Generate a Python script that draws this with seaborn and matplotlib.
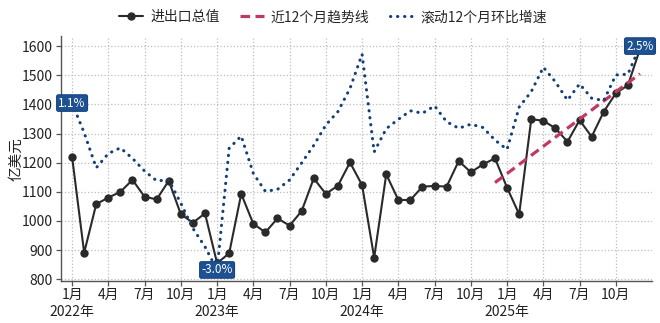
import numpy as np
import pandas as pd
import matplotlib
matplotlib.use("Agg")
import matplotlib.pyplot as plt
import seaborn as sns
from matplotlib.lines import Line2D

# Monthly periods, Jan 2022 – Dec 2025
periods = pd.period_range("2022-01", "2025-12", freq="M")

# Total import/export value, 100 million USD
total_trade = [
    1220, 891, 1058, 1080, 1100, 1141, 1083, 1074, 1138, 1023, 994, 1026,
    855, 889, 1093, 990, 961, 1009, 984, 1034, 1146, 1093, 1121, 1201,
    1123, 874, 1160, 1072, 1072, 1118, 1120, 1118, 1206, 1167, 1194, 1215,
    1114, 1023, 1349, 1344, 1318, 1272, 1346, 1289, 1375, 1438, 1466, 1590,
]

# Rolling 12-month month-on-month growth, %
rolling_growth = [
    1.10, 0.37, -0.49, -0.14, 0.00, -0.26, -0.57, -0.81, -0.79, -1.36, -1.98, -2.43,
    -3.00, -0.01, 0.29, -0.63, -1.07, -1.02, -0.79, -0.37, 0.06, 0.56, 0.89, 1.46,
    2.30, -0.10, 0.47, 0.70, 0.91, 0.85, 1.03, 0.64, 0.48, 0.58, 0.50, 0.19,
    -0.04, 1.00, 1.38, 1.98, 1.62, 1.17, 1.57, 1.22, 1.16, 1.79, 1.81, 2.50,
]

trend_window = 13  # points used for the recent trend fit

legend_labels = ["进出口总值", "近12个月趋势线", "滚动12个月环比增速"]
y_label = "亿美元"

df = pd.DataFrame({
    "idx": np.arange(len(periods)),
    "total": total_trade,
    "growth": rolling_growth,
})

sns.set_theme(style="ticks")
plt.rcParams["font.family"] = ["Noto Sans CJK SC", "DejaVu Sans"]
plt.rcParams["axes.unicode_minus"] = False

c_black = "#2a2a2a"
c_trend = "#bf3a60"
c_blue = "#133f78"

fig = plt.figure(figsize=(6.6, 3.23), dpi=100)
ax = fig.add_axes([0.092, 0.131, 0.896, 0.756])

# main series
sns.lineplot(data=df, x="idx", y="total", ax=ax, color=c_black, lw=1.5,
             marker="o", markersize=6, markeredgewidth=0, zorder=3)

# linear trend over the most recent months
recent = df.iloc[-trend_window:]
sns.regplot(data=recent, x="idx", y="total", ax=ax, scatter=False, ci=None,
            truncate=True,
            line_kws=dict(color=c_trend, lw=2.3, dashes=(3.0, 1.7), zorder=4))

y_lo, y_hi = 795, 1633
ax.set_ylim(y_lo, y_hi)
ax.set_xlim(-0.94, 48.0)
ax.set_yticks(np.arange(800, 1601, 100))

tick_pos = list(range(0, len(periods), 3))
tick_lab = [f"{p.month}月\n{p.year}年" if p.month == 1 else f"{p.month}月"
            for p in periods[tick_pos]]
ax.set_xticks(tick_pos)
ax.set_xticklabels(tick_lab, fontsize=10)
ax.tick_params(axis="y", labelsize=10)
ax.tick_params(axis="both", direction="out", length=3.5, width=0.9,
               color="#555555", labelcolor="#222222", pad=2)
ax.set_xlabel("")
ax.set_ylabel(y_label, fontsize=10.5, color="#222222")
ax.yaxis.set_label_coords(-0.064, 0.5)
ax.grid(True, linestyle=":", color="#bdbdbd", lw=0.9)
for s in ["top", "right"]:
    ax.spines[s].set_visible(False)
for s in ["left", "bottom"]:
    ax.spines[s].set_color("#555555")
    ax.spines[s].set_linewidth(1.0)

# growth series on a hidden secondary scale
ax2 = ax.twinx()
g_at_800, g_per_unit = -3.228, 5.727 / 800
ax2.set_ylim(g_at_800 + (y_lo - 800) * g_per_unit,
             g_at_800 + (y_hi - 800) * g_per_unit)
sns.lineplot(data=df, x="idx", y="growth", ax=ax2, color=c_blue, lw=2.2,
             linestyle=(0, (0.1, 2.2)), dash_capstyle="round", zorder=3)
ax2.set_axis_off()

for i in [0, int(np.argmin(rolling_growth)), len(rolling_growth) - 1]:
    v = rolling_growth[i]
    ax2.annotate(f"{v:.1f}%", (i, v), ha="center", va="center", fontsize=8.5,
                 color="white", zorder=6,
                 bbox=dict(boxstyle="round,pad=0.15", fc="#1d5192",
                           ec="#174680", lw=0.8))

handles = [
    Line2D([], [], color=c_black, lw=1.5, marker="o", markersize=5),
    Line2D([], [], color=c_trend, lw=2.3, dashes=(3.0, 1.7)),
    Line2D([], [], color=c_blue, lw=2.2, linestyle=(0, (0.1, 2.2)),
           dash_capstyle="round"),
]
fig.legend(handles, legend_labels, loc="center left",
           bbox_to_anchor=(0.162, 0.947), ncol=3, frameon=False,
           fontsize=10, handlelength=1.7, handletextpad=0.5,
           columnspacing=1.5, borderpad=0.4)

fig.savefig("out.png", dpi=100)
